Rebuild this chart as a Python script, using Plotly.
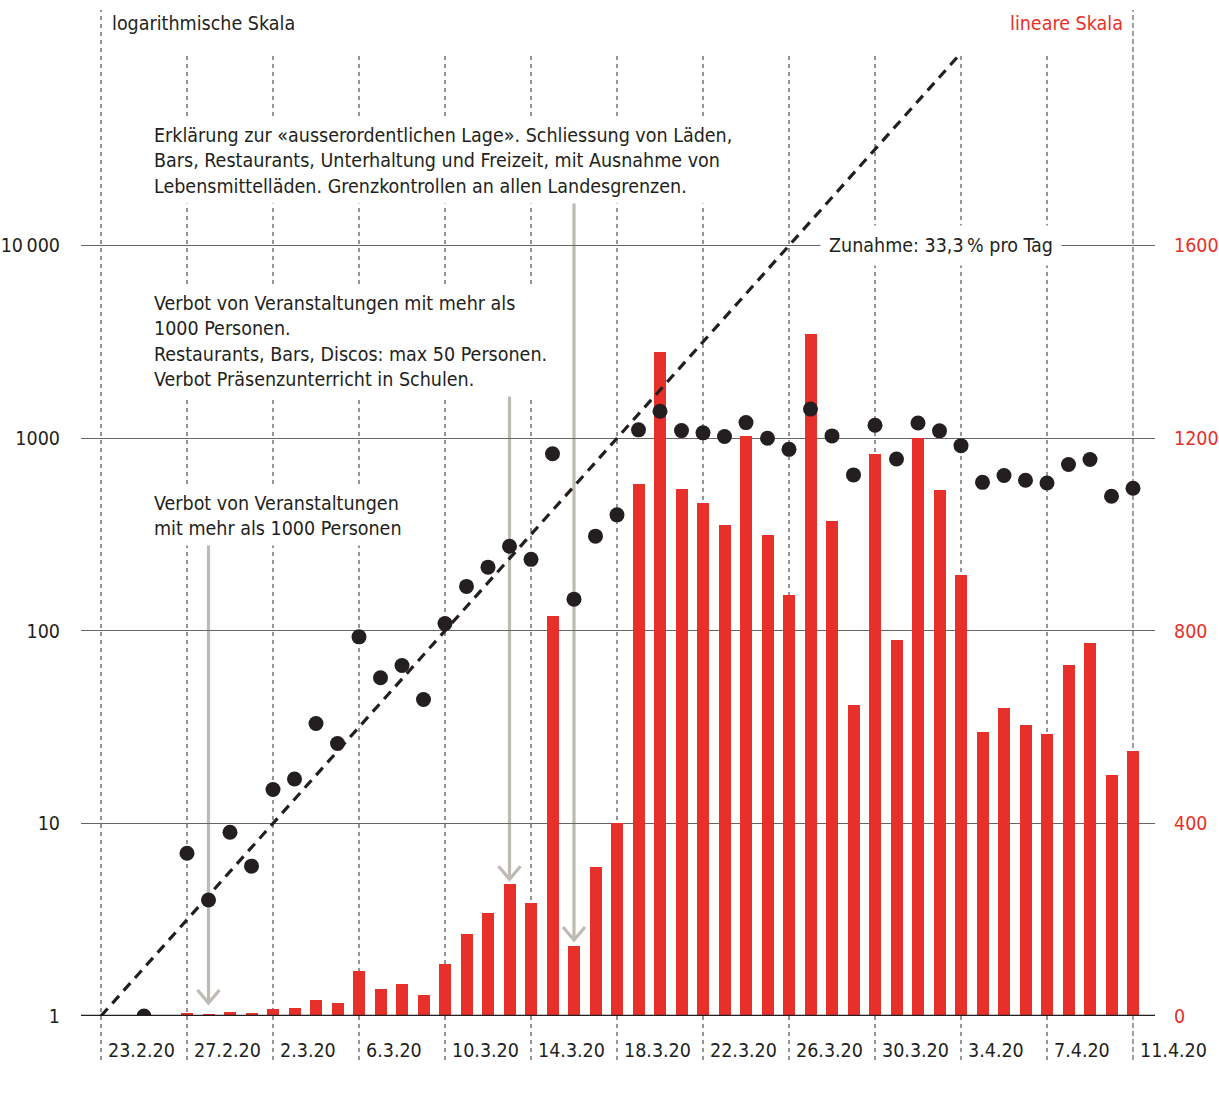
import plotly.graph_objects as go
from datetime import datetime, timedelta

# ---------------- data ----------------
dates = ["2020-02-25", "2020-02-26", "2020-02-27", "2020-02-28", "2020-02-29",
         "2020-03-01", "2020-03-02", "2020-03-03", "2020-03-04", "2020-03-05",
         "2020-03-06", "2020-03-07", "2020-03-08", "2020-03-09", "2020-03-10",
         "2020-03-11", "2020-03-12", "2020-03-13", "2020-03-14", "2020-03-15",
         "2020-03-16", "2020-03-17", "2020-03-18", "2020-03-19", "2020-03-20",
         "2020-03-21", "2020-03-22", "2020-03-23", "2020-03-24", "2020-03-25",
         "2020-03-26", "2020-03-27", "2020-03-28", "2020-03-29", "2020-03-30",
         "2020-03-31", "2020-04-01", "2020-04-02", "2020-04-03", "2020-04-04",
         "2020-04-05", "2020-04-06", "2020-04-07", "2020-04-08", "2020-04-09",
         "2020-04-10", "2020-04-11"]
neue_faelle = [1, None, 7, 4, 9,
               6, 15, 17, 33, 26,
               93, 57, 66, 44, 109,
               170, 214, 275, 235, 830,
               146, 310, 400, 1105, 1380,
               1095, 1066, 1020, 1205, 1000,
               875, 1416, 1028, 645, 1168,
               780, 1200, 1092, 915, 590,
               640, 605, 585, 730, 775,
               500, 550]

trend_dates = ["2020-02-23", "2020-04-03"]
trend_values = [1, 100000]
trend_label = "Zunahme: 33,3\u202f% pro Tag"

tick_dates = ["2020-02-23", "2020-02-27", "2020-03-02", "2020-03-06", "2020-03-10",
              "2020-03-14", "2020-03-18", "2020-03-22", "2020-03-26", "2020-03-30",
              "2020-04-03", "2020-04-07", "2020-04-11"]
tick_labels = ["23.2.20", "27.2.20", "2.3.20", "6.3.20", "10.3.20", "14.3.20",
               "18.3.20", "22.3.20", "26.3.20", "30.3.20", "3.4.20", "7.4.20", "11.4.20"]

log_ticks = [1, 10, 100, 1000, 10000, 100000]
log_ticktext = ["1", "10", "100", "1000", "10\u2009000", ""]
lin_ticks = [0, 400, 800, 1200, 1600]

events = [
    {"text": "Verbot von Veranstaltungen<br>mit mehr als 1000 Personen",
     "date": "2020-02-28", "top": 988, "tip": 27},
    {"text": "Verbot von Veranstaltungen mit mehr als<br>1000 Personen.<br>"
             "Restaurants, Bars, Discos: max 50 Personen.<br>Verbot Präsenzunterricht in Schulen.",
     "date": "2020-03-13", "top": 1290, "tip": 284},
    {"text": "Erklärung zur «ausserordentlichen Lage». Schliessung von Läden,<br>"
             "Bars, Restaurants, Unterhaltung und Freizeit, mit Ausnahme von<br>"
             "Lebensmittelläden. Grenzkontrollen an allen Landesgrenzen.",
     "date": "2020-03-16", "top": 1690, "tip": 158},
]
event_text_top_px = [486, 286, 118]

# ---------------- styling / layout ----------------
W, H = 1219, 1095
L, R, T, B = 81, 1155, 53, 1016
FONT = "DejaVu Sans Condensed, Liberation Sans Narrow, Arial Narrow, sans-serif"
FS = 19.5
DARK = "#231f20"
RED = "#e8302a"
GRAYARROW = "#bdbbb3"


def px_x(p):
    return (p - L) / (R - L)


def px_y(p):
    return (B - p) / (B - T)


def dstr(d):
    return d.strftime("%Y-%m-%d %H:%M:%S")


d0 = datetime(2020, 2, 23)
day_px = 21.5
x_start = dstr(d0 - timedelta(days=(101 - L) / day_px))
x_end = dstr(datetime(2020, 4, 11) + timedelta(days=(R - 1133) / day_px))

bar_vals = [v if v is not None else 0 for v in neue_faelle]

fig = go.Figure()
fig.add_trace(go.Bar(x=dates, y=bar_vals, yaxis="y", marker_color=RED,
                     marker_line_width=0, width=12 / day_px * 86400000,
                     showlegend=False, hoverinfo="skip"))
fig.add_trace(go.Scatter(x=trend_dates, y=trend_values, yaxis="y2", mode="lines",
                         line=dict(color=DARK, width=3.2, dash="10px,7px"),
                         showlegend=False, hoverinfo="skip"))
fig.add_trace(go.Scatter(x=dates, y=neue_faelle, yaxis="y2", mode="markers",
                         marker=dict(color=DARK, size=15, line_width=0),
                         showlegend=False))

shapes = []
for i, dt in enumerate(tick_dates):
    last = i == len(tick_dates) - 1
    first = i == 0
    shapes.append(dict(type="line", xref="x", yref="paper", x0=dt, x1=dt,
                       y0=px_y(1060), y1=px_y(10) if (first or last) else 1.0,
                       line=dict(color="#8a8a8a" if last else "#2a2a2a",
                                 width=1.6 if last else 1,
                                 dash="5px,3px" if last else "4px,4px"),
                       layer="below"))
# baseline
shapes.append(dict(type="line", xref="paper", yref="y", x0=0, x1=1, y0=0, y1=0,
                   line=dict(color=DARK, width=2.6), layer="above"))
# arrows
for ev in events:
    shapes.append(dict(type="line", xref="x", yref="y", x0=ev["date"], x1=ev["date"],
                       y0=ev["top"], y1=ev["tip"],
                       line=dict(color=GRAYARROW, width=3.2), layer="below"))
    shapes.append(dict(type="path", xref="x", yref="y", xsizemode="pixel",
                       ysizemode="pixel", xanchor=ev["date"], yanchor=ev["tip"],
                       path="M-11,13 L0,0 L11,13",
                       line=dict(color=GRAYARROW, width=3.2), layer="below"))

annotations = []
for dt, lab in zip(tick_dates, tick_labels):
    annotations.append(dict(x=dt, xref="x", y=px_y(1050), yref="paper", text=lab,
                            showarrow=False, xanchor="left", yanchor="middle",
                            xshift=5, font=dict(family=FONT, size=FS, color=DARK)))
for ev, top in zip(events, event_text_top_px):
    annotations.append(dict(x=px_x(148), xref="paper", y=px_y(top), yref="paper",
                            text=ev["text"], showarrow=False, xanchor="left",
                            yanchor="top", align="left", bgcolor="white",
                            borderpad=5,
                            font=dict(family=FONT, size=FS, color=DARK)))
annotations.append(dict(x=px_x(941), xref="paper", y=4, yref="y2", text=trend_label,
                        showarrow=False, xanchor="center", yanchor="middle",
                        bgcolor="white", borderpad=8,
                        font=dict(family=FONT, size=FS, color=DARK)))
annotations.append(dict(x=px_x(110), xref="paper", y=px_y(24), yref="paper",
                        text="logarithmische Skala", showarrow=False, xanchor="left",
                        yanchor="middle", font=dict(family=FONT, size=FS, color=DARK)))
annotations.append(dict(x=px_x(1125), xref="paper", y=px_y(24), yref="paper",
                        text="lineare Skala", showarrow=False, xanchor="right",
                        yanchor="middle", font=dict(family=FONT, size=FS, color=RED)))

fig.update_layout(
    width=W, height=H,
    margin=dict(l=L, r=W - R, t=T, b=H - B, pad=0, autoexpand=False),
    paper_bgcolor="white", plot_bgcolor="rgba(0,0,0,0)",
    bargap=0,
    xaxis=dict(type="date", range=[x_start, x_end], autorange=False, showgrid=False,
               zeroline=False, showticklabels=False, ticks="", showline=False,
               automargin=False),
    yaxis=dict(range=[0, 2000], side="right", tickvals=lin_ticks, showgrid=False,
               zeroline=False, showline=False, ticks="", automargin=False,
               tickfont=dict(family=FONT, size=FS, color=RED), ticklabelstandoff=18),
    yaxis2=dict(type="log", range=[0, 5], overlaying="y", side="left",
                tickvals=log_ticks, ticktext=log_ticktext, showgrid=True,
                gridcolor="#666666", gridwidth=1, zeroline=False, showline=False,
                ticks="", automargin=False,
                tickfont=dict(family=FONT, size=FS, color=DARK),
                ticklabelstandoff=20),
    shapes=shapes, annotations=annotations,
    font=dict(family=FONT, size=FS, color=DARK),
)

fig.write_html("out.html", config={"displayModeBar": False},
               post_script="document.body.style.margin='0px';")
